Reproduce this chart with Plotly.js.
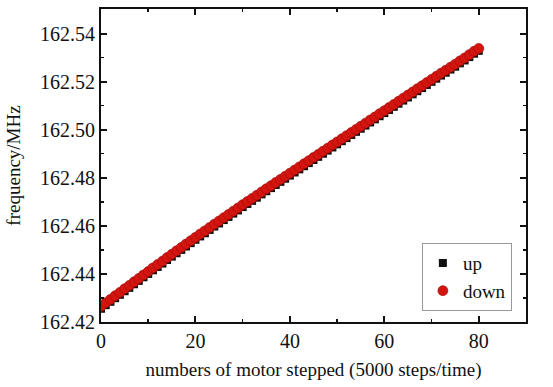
<!DOCTYPE html>
<html><head><meta charset="utf-8">
<script src="https://cdn.plot.ly/plotly-3.0.1.min.js"></script>
<style>body{margin:0;background:#fff}#c{width:553px;height:387px}</style>
</head><body><div id="c"></div>
<script>
const steps = [0,1,2,3,4,5,6,7,8,9,10,11,12,13,14,15,16,17,18,19,20,21,22,23,24,25,26,27,28,29,30,31,32,33,34,35,36,37,38,39,40,41,42,43,44,45,46,47,48,49,50,51,52,53,54,55,56,57,58,59,60,61,62,63,64,65,66,67,68,69,70,71,72,73,74,75,76,77,78,79,80];
const freqDown = [162.4265,162.4280,162.4294,162.4309,162.4323,162.4338,162.4352,162.4367,162.4381,162.4396,
162.4410,162.4425,162.4439,162.4453,162.4468,162.4482,162.4496,162.4510,162.4524,162.4538,
162.4552,162.4566,162.4579,162.4593,162.4607,162.4620,162.4634,162.4647,162.4661,162.4674,
162.4688,162.4701,162.4714,162.4727,162.4741,162.4754,162.4767,162.4780,162.4793,162.4806,
162.4819,162.4832,162.4845,162.4858,162.4871,162.4884,162.4897,162.4910,162.4923,162.4936,
162.4949,162.4962,162.4975,162.4988,162.5001,162.5014,162.5027,162.5040,162.5053,162.5066,
162.5079,162.5092,162.5105,162.5118,162.5131,162.5144,162.5157,162.5170,162.5183,162.5196,
162.5209,162.5222,162.5235,162.5247,162.5260,162.5272,162.5286,162.5298,162.5312,162.5326,
162.5338];
const freqUp = [162.4255,162.4270,162.4284,162.4299,162.4313,162.4328,162.4342,162.4357,162.4371,162.4386,
162.4400,162.4415,162.4429,162.4443,162.4458,162.4472,162.4486,162.4500,162.4514,162.4528,
162.4542,162.4556,162.4569,162.4583,162.4597,162.4610,162.4624,162.4637,162.4651,162.4664,
162.4678,162.4691,162.4704,162.4717,162.4731,162.4744,162.4757,162.4770,162.4783,162.4796,
162.4809,162.4822,162.4835,162.4848,162.4861,162.4874,162.4887,162.4900,162.4913,162.4926,
162.4939,162.4952,162.4965,162.4978,162.4991,162.5004,162.5017,162.5030,162.5043,162.5056,
162.5069,162.5082,162.5095,162.5108,162.5121,162.5134,162.5147,162.5160,162.5173,162.5186,
162.5199,162.5212,162.5225,162.5237,162.5250,162.5262,162.5276,162.5288,162.5302,162.5316,
162.5328];
const seriesNames = ['up','down'];

const fam = 'Liberation Serif';
const traces = [
  {x:steps, y:freqUp, name:seriesNames[0], type:'scatter', mode:'markers',
   marker:{symbol:'square', size:8, color:'#111'}},
  {x:steps, y:freqDown, name:seriesNames[1], type:'scatter', mode:'markers',
   marker:{symbol:'circle', size:10, color:'#d4140f', line:{width:0.6, color:'#9a0c08'}}}
];
const axisCommon = {showgrid:false, zeroline:false, showline:true, linecolor:'#111', linewidth:2,
  mirror:'ticks', ticks:'inside', ticklen:6, tickwidth:2, tickcolor:'#111',
  tickfont:{family:fam, size:20, color:'#111'}};
const layout = {
  width:553, height:387, paper_bgcolor:'#fff', plot_bgcolor:'#fff',
  font:{family:fam, color:'#111'},
  margin:{l:101, r:27, t:9, b:65},
  showlegend:true,
  xaxis:Object.assign({}, axisCommon, {range:[0,90], dtick:20, tick0:0,
    minor:{dtick:10, ticks:'inside', ticklen:3, tickwidth:1.5, tickcolor:'#111'},
    title:{text:'numbers of motor stepped (5000 steps/time)', font:{family:fam, size:19, color:'#111'}, standoff:12}}),
  yaxis:Object.assign({}, axisCommon, {range:[162.42,162.5502], dtick:0.02, tick0:162.42,
    tickformat:'.2f',
    minor:{dtick:0.01, ticks:'inside', ticklen:3, tickwidth:1.5, tickcolor:'#111'},
    title:{text:'frequency/MHz', font:{family:fam, size:19, color:'#111'}, standoff:14}}),
  legend:{x:0.755, y:0.252, xanchor:'left', yanchor:'top', bgcolor:'#fff',
    bordercolor:'#999', borderwidth:1, font:{family:fam, size:19, color:'#111'},
    itemwidth:30, tracegroupgap:0}
};
Plotly.newPlot('c', traces, layout, {displayModeBar:false, staticPlot:true});
</script></body></html>
